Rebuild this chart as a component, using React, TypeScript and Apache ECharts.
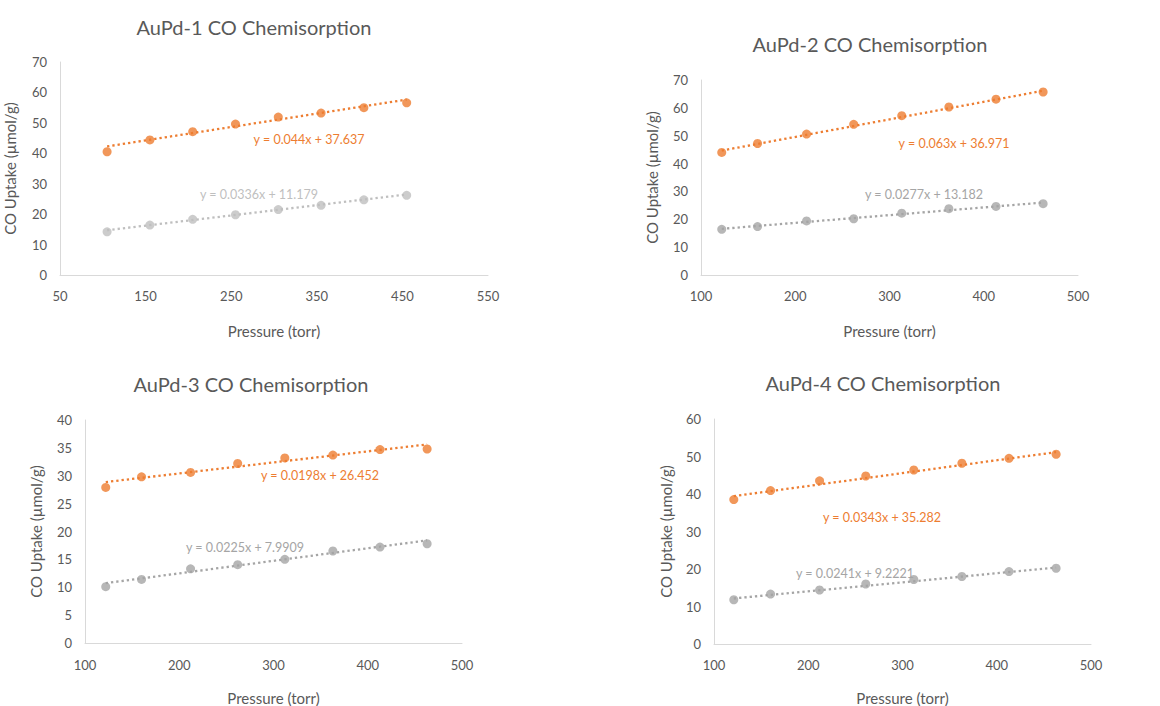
import React, { useEffect, useRef } from "react";
import * as echarts from "echarts";

// ---- Data ----
const panelTitles = [
  "AuPd-1 CO Chemisorption",
  "AuPd-2 CO Chemisorption",
  "AuPd-3 CO Chemisorption",
  "AuPd-4 CO Chemisorption",
];
const xAxisTitle = "Pressure (torr)";
const yAxisTitle = "CO Uptake (µmol/g)";

const pressure1 = [105, 155, 205, 255, 305, 355, 405, 455];
const orange1 = [40.5, 44.4, 47.1, 49.6, 51.9, 53.2, 55.0, 56.6];
const gray1 = [14.2, 16.4, 18.3, 19.8, 21.5, 22.9, 24.7, 26.2];

const pressure2 = [122, 160, 212, 262, 313, 363, 413, 463];
const orange2 = [44.0, 47.2, 50.6, 54.1, 57.2, 60.3, 63.1, 65.7];
const gray2 = [16.4, 17.4, 19.4, 20.2, 22.2, 23.8, 24.6, 25.6];

const pressure3 = [122, 160, 212, 262, 312, 363, 413, 463];
const orange3 = [27.9, 29.8, 30.6, 32.2, 33.2, 33.7, 34.7, 34.8];
const gray3 = [10.1, 11.4, 13.3, 14.05, 15.0, 16.5, 17.2, 17.8];

const pressure4 = [121, 160, 212, 261, 312, 363, 413, 463];
const orange4 = [38.5, 40.9, 43.5, 44.8, 46.4, 48.2, 49.5, 50.6];
const gray4 = [11.8, 13.3, 14.4, 16.0, 17.2, 18.0, 19.3, 20.2];

// Trendline fits (slope, intercept) as printed on the chart
const orangeSlopes = [0.044, 0.063, 0.0198, 0.0343];
const orangeIntercepts = [37.637, 36.971, 26.452, 35.282];
const graySlopes = [0.0336, 0.0277, 0.0225, 0.0241];
const grayIntercepts = [11.179, 13.182, 7.9909, 9.2221];
const orangeEqLabels = ["y = 0.044x + 37.637", "y = 0.063x + 36.971", "y = 0.0198x + 26.452", "y = 0.0343x + 35.282"];
const grayEqLabels = ["y = 0.0336x + 11.179", "y = 0.0277x + 13.182", "y = 0.0225x + 7.9909", "y = 0.0241x + 9.2221"];

// Axis ranges
const xMins = [50, 100, 100, 100];
const xMaxs = [550, 500, 500, 500];
const xIntervals = [100, 100, 100, 100];
const yMaxs = [70, 70, 40, 60];
const yIntervals = [10, 10, 5, 10];

const pressures = [pressure1, pressure2, pressure3, pressure4];
const oranges = [orange1, orange2, orange3, orange4];
const grays = [gray1, gray2, gray3, gray4];

// ---- Layout / style ----
const FONT = "Lato, 'Liberation Sans', sans-serif";
const TEXT = "#595959";
const ORANGE = "#ED7D31";
const grayColors = ["#BFBFBF", "#A5A5A5", "#A5A5A5", "#A5A5A5"];

const grids = [
  { left: 60, top: 62, width: 428, height: 213 },
  { left: 701, top: 80, width: 377, height: 195 },
  { left: 85, top: 420, width: 377, height: 230 },
  { left: 714, top: 419, width: 377, height: 233 },
];
const titlePos = [
  [254, 27],
  [870, 44],
  [251, 384],
  [883, 383],
];
const orangeLabelPos = [
  [309, 139],
  [954, 143],
  [320, 475],
  [882, 517],
];
const grayLabelPos = [
  [259, 194],
  [924, 194],
  [245, 547],
  [855, 573],
];
const xNameGaps = [48, 48, 47, 46];
const xLabelMargins = [14, 14, 15, 14];
const yNameGaps = [43, 42, 42, 41];

function trend(xs: number[], m: number, b: number) {
  const x0 = xs[0];
  const x1 = xs[xs.length - 1];
  return [
    [x0, m * x0 + b],
    [x1, m * x1 + b],
  ];
}

export default function App() {
  const ref = useRef<HTMLDivElement>(null);

  useEffect(() => {
    if (!ref.current) return;
    const chart = echarts.init(ref.current, null, { renderer: "svg" });

    const xAxis: any[] = [];
    const yAxis: any[] = [];
    const series: any[] = [];
    const graphic: any[] = [];

    for (let i = 0; i < 4; i++) {
      xAxis.push({
        type: "value",
        gridIndex: i,
        min: xMins[i],
        max: xMaxs[i],
        interval: xIntervals[i],
        name: xAxisTitle,
        nameLocation: "middle",
        nameGap: xNameGaps[i],
        nameTextStyle: { color: TEXT, fontSize: 15, fontFamily: FONT },
        axisLine: { show: true, lineStyle: { color: "#D9D9D9", width: 1 } },
        axisTick: { show: false },
        splitLine: { show: false },
        axisLabel: { color: TEXT, fontSize: 13, fontFamily: FONT, margin: xLabelMargins[i] },
      });
      yAxis.push({
        type: "value",
        gridIndex: i,
        min: 0,
        max: yMaxs[i],
        interval: yIntervals[i],
        name: yAxisTitle,
        nameLocation: "middle",
        nameGap: yNameGaps[i],
        nameRotate: 90,
        nameTextStyle: { color: TEXT, fontSize: 15, fontFamily: FONT },
        axisLine: { show: true, lineStyle: { color: "#D9D9D9", width: 1 } },
        axisTick: { show: false },
        splitLine: { show: false },
        axisLabel: { color: TEXT, fontSize: 13, fontFamily: FONT, margin: 13 },
      });

      const xs = pressures[i];
      const dotted = { width: 2.3, type: [2.3, 3] as any };

      series.push({
        type: "line",
        xAxisIndex: i,
        yAxisIndex: i,
        data: trend(xs, orangeSlopes[i], orangeIntercepts[i]),
        symbol: "none",
        lineStyle: { color: ORANGE, ...dotted },
        silent: true,
        z: 1,
      });
      series.push({
        type: "line",
        xAxisIndex: i,
        yAxisIndex: i,
        data: trend(xs, graySlopes[i], grayIntercepts[i]),
        symbol: "none",
        lineStyle: { color: grayColors[i], ...dotted },
        silent: true,
        z: 1,
      });
      series.push({
        type: "scatter",
        xAxisIndex: i,
        yAxisIndex: i,
        data: xs.map((x, k) => [x, oranges[i][k]]),
        symbol: "circle",
        symbolSize: 9,
        itemStyle: { color: ORANGE },
        z: 3,
      });
      series.push({
        type: "scatter",
        xAxisIndex: i,
        yAxisIndex: i,
        data: xs.map((x, k) => [x, grays[i][k]]),
        symbol: "circle",
        symbolSize: 9,
        itemStyle: { color: grayColors[i] },
        z: 3,
      });

      graphic.push({
        type: "text",
        x: titlePos[i][0],
        y: titlePos[i][1],
        style: {
          text: panelTitles[i],
          fill: TEXT,
          font: `20px ${FONT}`,
          align: "center",
          verticalAlign: "middle",
        },
      });
      graphic.push({
        type: "text",
        x: orangeLabelPos[i][0],
        y: orangeLabelPos[i][1],
        style: {
          text: orangeEqLabels[i],
          fill: ORANGE,
          font: `12.5px ${FONT}`,
          align: "center",
          verticalAlign: "middle",
        },
      });
      graphic.push({
        type: "text",
        x: grayLabelPos[i][0],
        y: grayLabelPos[i][1],
        style: {
          text: grayEqLabels[i],
          fill: grayColors[i],
          font: `12.5px ${FONT}`,
          align: "center",
          verticalAlign: "middle",
        },
      });
    }

    chart.setOption({
      animation: false,
      backgroundColor: "#FFFFFF",
      textStyle: { fontFamily: FONT },
      grid: grids.map((g) => ({ ...g, containLabel: false })),
      xAxis,
      yAxis,
      series,
      graphic,
    });

    return () => chart.dispose();
  }, []);

  return (
    <div
      ref={ref}
      style={{ position: "absolute", left: 0, top: 0, width: 1160, height: 706 }}
    />
  );
}
